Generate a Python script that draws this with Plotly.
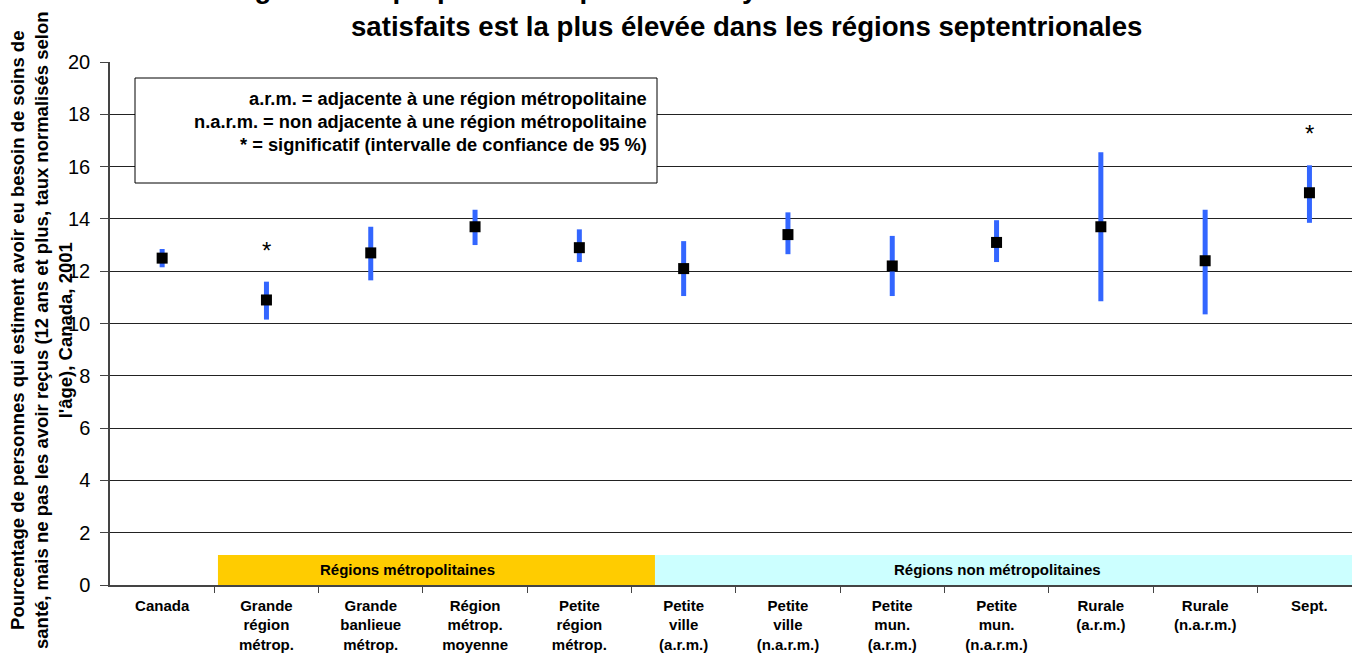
import plotly.graph_objects as go

categories = ["Canada", "Grande<br>région<br>métrop.", "Grande<br>banlieue<br>métrop.",
              "Région<br>métrop.<br>moyenne", "Petite<br>région<br>métrop.",
              "Petite<br>ville<br>(a.r.m.)", "Petite<br>ville<br>(n.a.r.m.)",
              "Petite<br>mun.<br>(a.r.m.)", "Petite<br>mun.<br>(n.a.r.m.)",
              "Rurale<br>(a.r.m.)", "Rurale<br>(n.a.r.m.)", "Sept."]
values = [12.5, 10.9, 12.7, 13.7, 12.9, 12.1, 13.4, 12.2, 13.1, 13.7, 12.4, 15.0]
upper = [12.85, 11.6, 13.7, 14.35, 13.6, 13.15, 14.25, 13.35, 13.95, 16.55, 14.35, 16.05]
lower = [12.15, 10.15, 11.65, 13.0, 12.35, 11.05, 12.65, 11.05, 12.35, 10.85, 10.35, 13.85]
significant = [False, True, False, False, False, False, False, False, False, False, False, True]

groups = ["Régions métropolitaines", "Régions non métropolitaines"]
group_start = [0.535, 4.725]
group_end = [4.725, 11.6]
group_label_x = [2.35, 8.01]
group_colors = ["#FFCC00", "#CCFFFF"]
band_height = 1.15

legend_lines = ["a.r.m. = adjacente à une région métropolitaine",
                "n.a.r.m. = non adjacente à une région métropolitaine",
                "* = significatif (intervalle de confiance de 95 %)"]

title_lines = ["Figure 3  La proportion de personnes ayant des besoins de soins de santé non",
               "satisfaits est la plus élevée dans les régions septentrionales"]

ytitle = ("Pourcentage de personnes qui estiment avoir eu besoin de soins de<br>"
          "santé, mais ne pas les avoir reçus (12 ans et plus, taux normalisés selon<br>"
          "l'âge), Canada, 2001")

FONT = "Liberation Sans, Arial, sans-serif"
W, H = 1352, 656
ML, MR, MT, MB = 110, 0, 62, 71
PW = W - ML - MR
PH = H - MT - MB
cat_px = 104.3

def px_x(p):
    return (p - ML) / PW

def px_y(p):
    return (H - MB - p) / PH

xidx = list(range(len(categories)))

fig = go.Figure()

fig.add_trace(go.Scatter(
    x=xidx, y=values, mode="markers",
    marker=dict(symbol="square", size=11, color="black"),
    error_y=dict(type="data", symmetric=False,
                 array=[u - v for u, v in zip(upper, values)],
                 arrayminus=[v - l for v, l in zip(values, lower)],
                 thickness=5, width=0, color="#3366FF"),
    showlegend=False, hoverinfo="skip",
))

shapes = []
annotations = []
for g, x0, x1, c, lx in zip(groups, group_start, group_end, group_colors, group_label_x):
    shapes.append(dict(type="rect", xref="x", yref="y", x0=x0, x1=x1, y0=0, y1=band_height,
                       fillcolor=c, line=dict(width=0), layer="below"))
    annotations.append(dict(xref="x", yref="y", x=lx, y=band_height / 2, text=g,
                            showarrow=False, font=dict(family=FONT, size=15, color="black", weight="bold"),
                            xanchor="center", yanchor="middle"))

for i, (s, u) in enumerate(zip(significant, upper)):
    if s:
        annotations.append(dict(xref="x", yref="y", x=i, y=u + 1.4, text="*", showarrow=False,
                                font=dict(family=FONT, size=24, color="black"),
                                xanchor="center", yanchor="middle", yshift=-5))

# note box
shapes.append(dict(type="rect", xref="paper", yref="paper",
                   x0=px_x(135), x1=px_x(657), y0=px_y(183), y1=px_y(78),
                   fillcolor="white", line=dict(color="black", width=1), layer="above"))
for k, t in enumerate(legend_lines):
    annotations.append(dict(xref="paper", yref="paper", x=px_x(649), y=px_y(98 + 23 * k), text=t,
                            showarrow=False, xanchor="right", yanchor="middle", align="right",
                            font=dict(family=FONT, size=18.3, color="black", weight="bold")))

# title
for k, t in enumerate(title_lines):
    annotations.append(dict(xref="paper", yref="paper", x=px_x(746), y=px_y(-11 + 38 * k), text=t,
                            showarrow=False, xanchor="center", yanchor="middle",
                            font=dict(family=FONT, size=27.6, color="black", weight="bold")))

# y title
annotations.append(dict(xref="paper", yref="paper", x=px_x(41), y=px_y(330), text=ytitle,
                        textangle=-90, showarrow=False, xanchor="center", yanchor="middle",
                        align="center",
                        font=dict(family=FONT, size=18.5, color="black", weight="bold")))

fig.update_layout(
    width=W, height=H,
    margin=dict(l=ML, r=MR, t=MT, b=MB),
    paper_bgcolor="white", plot_bgcolor="white",
    shapes=shapes, annotations=annotations,
    xaxis=dict(type="linear", range=[-0.5, -0.5 + PW / cat_px],
               tickmode="array", tickvals=xidx, ticktext=categories,
               showgrid=False, zeroline=False, showline=True, linecolor="#444", linewidth=1.5,
               ticks="", ticklabelstandoff=6,
               tickfont=dict(family=FONT, size=15, color="black", weight="bold")),
    yaxis=dict(range=[0, 20], tickmode="linear", tick0=0, dtick=2,
               showgrid=True, gridcolor="#222", gridwidth=1, zeroline=False,
               showline=True, linecolor="#444", linewidth=1.5,
               ticks="outside", ticklen=8, tickcolor="#444", ticklabelstandoff=6,
               tickfont=dict(family=FONT, size=20, color="black")),
    font=dict(family=FONT),
)

fig.update_xaxes(minor=dict(tickmode="array", tickvals=[i + 0.5 for i in xidx[:-1]],
                            ticks="outside", ticklen=6, tickcolor="#444", showgrid=False))

fig.write_html("out.html", config={"displayModeBar": False},
               post_script="document.body.style.margin='0';document.body.style.overflow='hidden';")
